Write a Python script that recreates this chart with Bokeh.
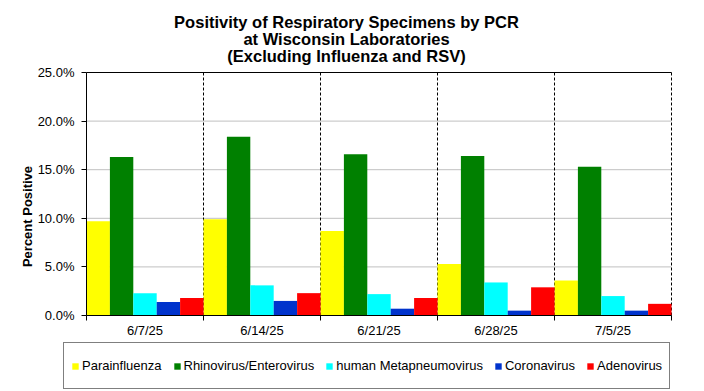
from bokeh.plotting import figure
from bokeh.models import (FixedTicker, PrintfTickFormatter, Legend, LegendItem, Range1d)
from bokeh.core.properties import value
from bokeh.embed import file_html
from bokeh.resources import INLINE

# ---- data (percent positive) ----
weeks = ["6/7/25", "6/14/25", "6/21/25", "6/28/25", "7/5/25"]
series_names = ["Parainfluenza", "Rhinovirus/Enterovirus", "human Metapneumovirus",
                "Coronavirus", "Adenovirus"]
parainfluenza = [9.7, 9.9, 8.7, 5.3, 3.6]
rhino_entero = [16.3, 18.4, 16.6, 16.4, 15.3]
hmpv = [2.3, 3.1, 2.2, 3.4, 2.0]
coronavirus = [1.4, 1.5, 0.7, 0.5, 0.5]
adenovirus = [1.8, 2.3, 1.8, 2.9, 1.2]
series_values = [parainfluenza, rhino_entero, hmpv, coronavirus, adenovirus]
colors = ["#FFFF00", "#008000", "#00FFFF", "#0033CC", "#FF0000"]
y_ticks = [0, 5, 10, 15, 20, 25]
title_lines = ["Positivity of Respiratory Specimens by PCR",
               "at Wisconsin Laboratories",
               "(Excluding Influenza and RSV)"]
y_label = "Percent Positive"

FONT = "Liberation Sans"
n = len(weeks)
k = len(series_names)
bw = 1.0 / k
ymax = y_ticks[-1]

# ---- layout (pixels inside the figure) ----
W, H = 704, 391
PL, PR, PT, PB = 86, 671, 72, 315
sx = (PR - PL) / n
sy = (PB - PT) / ymax


def fx(px):
    return (px - PL) / sx


def fy(py):
    return (PB - py) / sy


p = figure(frame_width=W, frame_height=H, min_border=0, output_backend="svg",
           toolbar_location=None,
           x_range=Range1d(fx(0), fx(W)), y_range=Range1d(fy(H), fy(0)))
p.outline_line_color = None
p.background_fill_color = "white"
p.border_fill_color = "white"
p.grid.visible = False

# horizontal grid lines and top border
p.segment(x0=[0] * (len(y_ticks) - 2), x1=[n] * (len(y_ticks) - 2),
          y0=y_ticks[1:-1], y1=y_ticks[1:-1], line_color="#C0C0C0", line_width=1)
p.segment(x0=[0], x1=[n], y0=[ymax], y1=[ymax], line_color="black", line_width=1)
# dashed week separators
p.segment(x0=list(range(1, n + 1)), x1=list(range(1, n + 1)),
          y0=[0] * n, y1=[ymax] * n, line_color="black", line_width=1,
          line_dash="3 2")

renderers = []
for i, (vals, col) in enumerate(zip(series_values, colors)):
    xs = [j + bw * (i + 0.5) for j in range(n)]
    r = p.vbar(x=xs, top=vals, width=bw, bottom=0, fill_color=col, line_color=None)
    renderers.append(r)

# axes
xa = p.xaxis[0]
xa.fixed_location = 0
xa.bounds = (0, n)
xa.ticker = FixedTicker(ticks=[j + 0.5 for j in range(n)],
                        minor_ticks=[j for j in range(n + 1)])
xa.major_label_overrides = {j + 0.5: weeks[j] for j in range(n)}
xa.major_tick_out = 0
xa.major_tick_in = 0
xa.minor_tick_out = 5
xa.minor_tick_in = 0
xa.major_label_standoff = 2

ya = p.yaxis[0]
ya.fixed_location = 0
ya.bounds = (0, ymax)
ya.ticker = FixedTicker(ticks=y_ticks, minor_ticks=[])
ya.formatter = PrintfTickFormatter(format="%.1f%%")
ya.major_tick_out = 5
ya.major_tick_in = 0
ya.minor_tick_out = 0
ya.minor_tick_in = 0
ya.major_label_standoff = 7

for ax in (xa, ya):
    ax.axis_line_color = "black"
    ax.axis_line_width = 1
    ax.major_tick_line_color = "black"
    ax.minor_tick_line_color = "black"
    ax.major_label_text_font = FONT
    ax.major_label_text_font_size = "13px"
    ax.major_label_text_color = "black"

# title
p.text(x=[fx(346)] * 3, y=[fy(21.5), fy(38.5), fy(55.5)], text=title_lines,
       text_align="center", text_baseline="alphabetic", text_font=value(FONT),
       text_font_size="16.5px", text_font_style="bold", text_color="black")

# y-axis label
p.text(x=[fx(27)], y=[fy(216)], text=[y_label], angle=1.5707963,
       text_align="center", text_baseline="middle", text_font=value(FONT),
       text_font_size="13px", text_font_style="bold", text_color="black")

legend = Legend(items=[LegendItem(label=nm, renderers=[r])
                       for nm, r in zip(series_names, renderers)],
                orientation="horizontal", location=(63, 2),
                glyph_width=8, glyph_height=8, label_standoff=3, spacing=11,
                padding=7, label_height=31, margin=0,
                label_text_font=FONT, label_text_font_size="13px",
                label_text_color="black",
                border_line_color="black", border_line_width=1,
                background_fill_color="white", background_fill_alpha=1)
p.add_layout(legend)

open("out.html", "w").write(file_html(p, INLINE))
